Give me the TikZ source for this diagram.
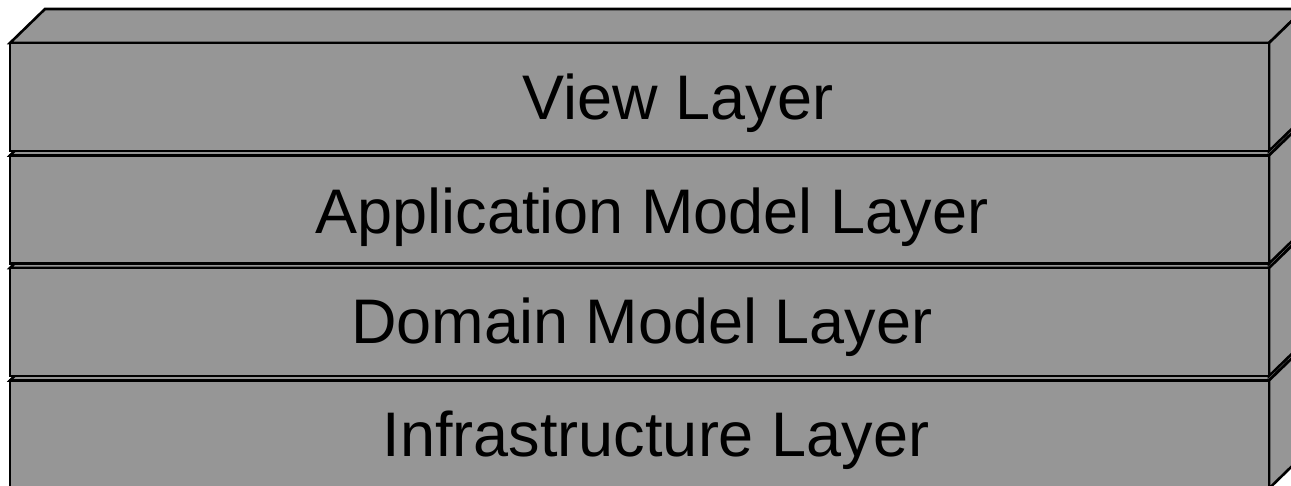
\documentclass[tikz,border=0pt]{standalone}
\usepackage{fontspec}
\setmainfont{Liberation Sans}
\begin{document}
\begin{tikzpicture}[x=1pt,y=-1pt,
  slabface/.style={fill=slabgray,draw=black,line width=2.6pt,line join=miter},
  layerlabel/.style={anchor=base,inner sep=0pt,text=black,
    font=\fontsize{63}{75}\selectfont}]
\definecolor{slabgray}{RGB}{150,150,150}
\useasboundingbox (0,0) rectangle (1291,486);
\clip (0,0) rectangle (1291,486);
% one slab: front face, top face and right face; drawn from the bottom up
\def\sL{10}\def\sR{1269}\def\dx{35}\def\dy{34}\def\sH{108}
\foreach \t in {380.5,268,155.5,43}{
  \pgfmathsetmacro{\b}{\t+\sH}
  \path[slabface] (\sL,\t) -- (\sL+\dx,\t-\dy) -- (\sR+\dx,\t-\dy) -- (\sR,\t) -- cycle;
  \path[slabface] (\sR,\t) -- (\sR+\dx,\t-\dy) -- (\sR+\dx,\b-\dy) -- (\sR,\b) -- cycle;
  \path[slabface] (\sL,\t) rectangle (\sR,\b);
}
\node[layerlabel] (view)  at (678,120)   {View Layer};
\node[layerlabel] (appm)  at (652,233.3) {Application Model Layer};
\node[layerlabel] (domm)  at (642,344)   {Domain Model Layer};
\node[layerlabel] (infra) at (656,456.7) {Infrastructure Layer};
\end{tikzpicture}
\end{document}
